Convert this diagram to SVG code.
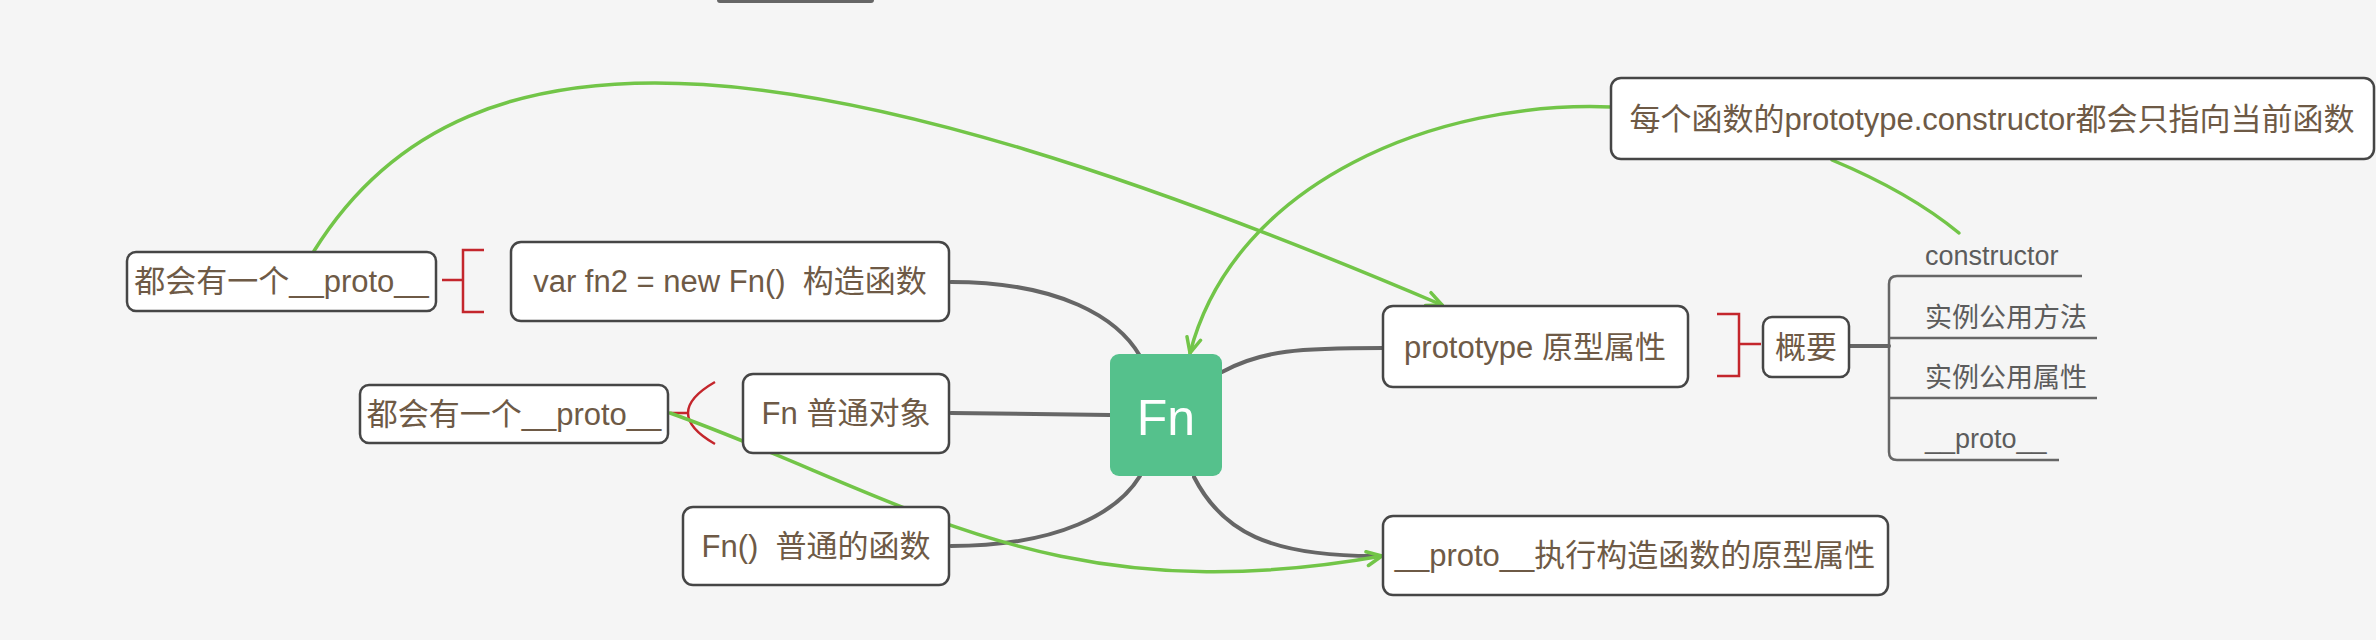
<svg xmlns="http://www.w3.org/2000/svg" width="2376" height="640" viewBox="0 0 2376 640">
<defs>
<style>
.node{fill:#ffffff;stroke:#464646;stroke-width:2.5}
.t{font-family:"Liberation Sans","Noto Sans CJK SC",sans-serif;font-size:31px;fill:#6e5a46;text-anchor:middle}
.li{font-family:"Liberation Sans","Noto Sans CJK SC",sans-serif;font-size:27px;fill:#5c5c5c}
.gray{fill:none;stroke:#666666;stroke-width:4;stroke-linecap:round}
.thin{fill:none;stroke:#666666;stroke-width:2.5}
.green{fill:none;stroke:#72c548;stroke-width:3.5;stroke-linecap:round}
.red{fill:none;stroke:#c4262c;stroke-width:2.5}
</style>
<marker id="ga" viewBox="0 0 20 20" refX="18" refY="10" markerWidth="20" markerHeight="20" markerUnits="userSpaceOnUse" orient="auto">
<path d="M3,3 L18,10 L3,17" fill="none" stroke="#72c548" stroke-width="3.5" stroke-linecap="round"/>
</marker>
</defs>
<rect width="2376" height="640" fill="#f5f5f5"/>
<rect x="717" y="-4" width="157" height="7" rx="3" fill="#666666"/>

<g id="connectors">
<path class="gray" d="M951,282 C1060,282 1118,318 1140,356"/>
<path class="gray" d="M951,413 L1110,415"/>
<path class="gray" d="M951,546 C1060,546 1118,512 1140,476"/>
<path class="gray" d="M1222,372 C1262,350 1300,348 1383,348"/>
<path class="gray" d="M1194,477 C1222,532 1270,556 1374,556"/>
<path class="gray" d="M1849,346 L1889,346"/>
<path class="thin" d="M2082,276 L1897,276 Q1889,276 1889,284 L1889,452 Q1889,460 1897,460 L2059,460"/>
<path class="thin" d="M1889,338 L2097,338"/>
<path class="thin" d="M1889,398 L2097,398"/>
<path class="red" d="M442,280 L463,280 M484,250 L463,250 L463,312 L484,312"/>
<path class="red" d="M671,413 L688,413 M715,382 Q661,413 715,444"/>
<path class="red" d="M1717,314 L1739,314 L1739,376 L1717,376 M1739,344 L1761,344"/>
<path class="green" d="M314,251 C470,0 820,40 1442,305" marker-end="url(#ga)"/>
<path class="green" d="M1611,107 C1440,100 1235,180 1190,353" marker-end="url(#ga)"/>
<path class="green" d="M1832,160 C1880,180 1925,205 1959,233"/>
<path class="green" d="M670,413 C900,495 1050,615 1382,556" marker-end="url(#ga)"/>
</g>

<g id="node-fn">
<rect x="1110" y="354" width="112" height="122" rx="9" fill="#55c18c"/>
<text x="1166" y="435" font-family="Liberation Sans, sans-serif" font-size="50" fill="#ffffff" text-anchor="middle">Fn</text>
</g>
<g id="node-proto1">
<rect class="node" x="127" y="252" width="309" height="59" rx="9"/>
<text class="t" x="281.5" y="292">都会有一个__proto__</text>
</g>
<g id="node-new">
<rect class="node" x="511" y="242" width="438" height="79" rx="10"/>
<text class="t" x="730" y="292" xml:space="preserve">var fn2 = new Fn()  构造函数</text>
</g>
<g id="node-proto2">
<rect class="node" x="360" y="385" width="308" height="58" rx="9"/>
<text class="t" x="514" y="425">都会有一个__proto__</text>
</g>
<g id="node-obj">
<rect class="node" x="743" y="374" width="206" height="79" rx="10"/>
<text class="t" x="846" y="424">Fn 普通对象</text>
</g>
<g id="node-func">
<rect class="node" x="683" y="507" width="266" height="78" rx="10"/>
<text class="t" x="816" y="557" xml:space="preserve">Fn()  普通的函数</text>
</g>
<g id="node-prototype">
<rect class="node" x="1383" y="306" width="305" height="81" rx="10"/>
<text class="t" x="1535" y="358">prototype 原型属性</text>
</g>
<g id="node-summary">
<rect class="node" x="1763" y="317" width="86" height="60" rx="9"/>
<text class="t" x="1806" y="358">概要</text>
</g>
<g id="node-list">
<text class="li" x="1925" y="265">constructor</text>
<text class="li" x="1925" y="327">实例公用方法</text>
<text class="li" x="1925" y="387">实例公用属性</text>
<text class="li" x="1925" y="448">__proto__</text>
</g>
<g id="node-ctor">
<rect class="node" x="1611" y="78" width="763" height="81" rx="10"/>
<text class="t" x="1992" y="130">每个函数的prototype.constructor都会只指向当前函数</text>
</g>
<g id="node-proto-exec">
<rect class="node" x="1383" y="516" width="505" height="79" rx="10"/>
<text class="t" x="1635" y="566">__proto__执行构造函数的原型属性</text>
</g>
</svg>
